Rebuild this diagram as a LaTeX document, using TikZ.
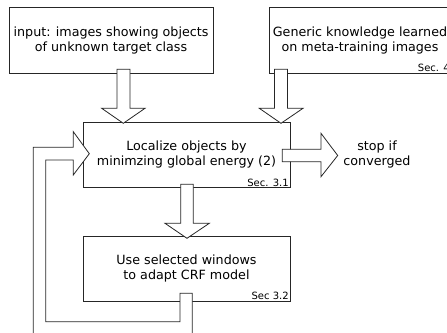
\documentclass[tikz,border=0pt]{standalone}
\usepackage{fontspec}
\setmainfont{DejaVu Sans}
\begin{document}
\begin{tikzpicture}[x=1pt,y=-1pt,
  box/.style={draw=black!85,line width=0.8pt,fill=white,inner sep=0pt,align=center,
    font=\fontsize{12.7}{15}\selectfont},
  seclabel/.style={anchor=south east,inner sep=1.5pt,font=\fontsize{10}{12}\selectfont},
  hollow/.style={draw=black!85,line width=0.8pt,fill=white,line join=miter},
  plain/.style={align=center,font=\fontsize{12.7}{15}\selectfont}]
\useasboundingbox (0,0) rectangle (447,332);
\clip (0,0) rectangle (447,332);
% boxes
\node[box,minimum width=204pt,minimum height=66pt] (input) at (111,40)
  {input: images showing objects\\of unknown target class};
\node[box,minimum width=182pt,minimum height=66pt] (generic) at (360,40)
  {Generic knowledge learned\\on meta-training images};
\node[seclabel] (sec4) at (generic.south east) {Sec. 4};
\node[box,minimum width=207pt,minimum height=65.5pt] (localize) at (186.5,154.75)
  {Localize objects by\\minimzing global energy (2)};
\node[seclabel] (sec31) at (localize.south east) {Sec. 3.1};
\node[box,minimum width=207pt,minimum height=65pt] (adapt) at (186.5,268.5)
  {Use selected windows\\to adapt CRF model};
\node[seclabel] (sec32) at (adapt.south east) {Sec 3.2};
\node[plain] (stop) at (377,154.5) {stop if\\converged};
% hollow arrow: input -> localize
\draw[hollow] (117,69.3) -- (130,69.3) -- (130,108.3) -- (145,108.3) -- (123.3,123.3)
  -- (101.7,108.3) -- (117,108.3) -- cycle;
% hollow arrow: generic -> localize
\draw[hollow] (274.5,69.3) -- (287.5,69.3) -- (287.5,108.3) -- (303,108.3) -- (281,123.3)
  -- (259.3,108.3) -- (274.5,108.3) -- cycle;
% hollow arrow: localize -> adapt
\draw[hollow] (180.7,184.3) -- (193.3,184.3) -- (193.3,223.3) -- (209.3,223.3) -- (187,238.3)
  -- (165,223.3) -- (180.7,223.3) -- cycle;
% hollow arrow: localize -> stop
\draw[hollow] (282.3,149.3) -- (321,149.3) -- (321,133.3) -- (337.7,155.5) -- (321,176.7)
  -- (321,161.7) -- (282.3,161.7) -- cycle;
% feedback loop: adapt -> localize
\draw[hollow] (180,293.3) -- (192.3,293.3) -- (192.3,334) -- (33.3,334) -- (33.3,147.3)
  -- (73.3,147.3) -- (73.3,131.7) -- (89.3,153.7) -- (73.3,175) -- (73.3,160)
  -- (45.7,160) -- (45.7,321.7) -- (180,321.7) -- cycle;
\end{tikzpicture}
\end{document}
